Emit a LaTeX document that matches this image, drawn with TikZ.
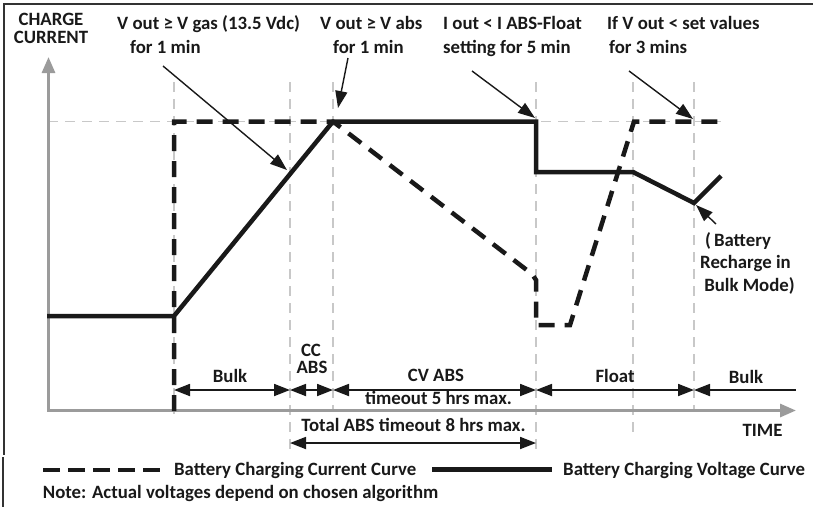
\documentclass[tikz,border=0pt]{standalone}
\usepackage{fontspec}
\setmainfont{Carlito}
\usetikzlibrary{arrows.meta}
\definecolor{axisgray}{RGB}{155,155,155}
\definecolor{gridgray}{RGB}{200,200,200}
\definecolor{ink}{RGB}{25,25,25}
\tikzset{
  lbl/.style={font=\bfseries\fontsize{18.8}{22}\selectfont, inner sep=0pt, text=ink},
  gridln/.style={draw=gridgray, line width=1.5pt, dash pattern=on 10pt off 7pt},
  axisln/.style={draw=axisgray, line width=3pt, -{Triangle[length=16pt,width=13pt]}},
  currln/.style={draw=ink, line width=4.5pt, dash pattern=on 16pt off 10pt},
  voltln/.style={draw=ink, line width=4.5pt},
  phasearr/.style={draw=ink, line width=1.8pt, {Triangle[length=16pt,width=12pt]}-{Triangle[length=16pt,width=12pt]}},
  phaseleft/.style={draw=ink, line width=1.8pt, {Triangle[length=16pt,width=12pt]}-},
  notearr/.style={draw=ink, line width=1.4pt, -{Triangle[length=17pt,width=12pt]}},
  framel/.style={draw=black!80, line width=1.3pt},
}
\begin{document}
\begin{tikzpicture}[x=1pt,y=-1pt]
\useasboundingbox (0,0) rectangle (813,515);
% frame
\coordinate (fr0) at (4,4);
\coordinate (fr1) at (813,4);
\coordinate (fr2) at (4,455);
\coordinate (fr3) at (3,457);
\coordinate (fr4) at (3,507);
\draw[framel] (fr1) -- (fr0) -- (fr2);
\draw[framel] (fr3) -- (fr4);
% grid
\coordinate (gh0) at (48,121.5);
\coordinate (gh1) at (725,121.5);
\draw[gridln] (gh0) -- (gh1);
\coordinate (g1t) at (174,82);  \coordinate (g1b) at (174,414);
\coordinate (g2t) at (290,82);  \coordinate (g2b) at (290,449);
\coordinate (g3t) at (333,82);  \coordinate (g3b) at (333,410);
\coordinate (g4t) at (536,82);  \coordinate (g4b) at (536,449);
\coordinate (g5t) at (633,82);  \coordinate (g5b) at (633,437);
\coordinate (g6t) at (694,82);  \coordinate (g6b) at (694,411);
\foreach \i in {1,...,6} {\draw[gridln] (g\i t) -- (g\i b);}
% axes
\coordinate (org) at (48.5,410.5);
\coordinate (ytip) at (48.5,57);
\coordinate (xtip) at (796,410.5);
\coordinate (org2) at (47,410.5);
\draw[axisln] (org) -- (ytip);
\draw[axisln] (org2) -- (xtip);
% current curve (dashed)
\coordinate (c0) at (174,411);
\coordinate (c1) at (174,121.5);
\coordinate (c2) at (333,121.5);
\coordinate (c3) at (532,274);
\coordinate (c4) at (536,280);
\coordinate (c5) at (536,325);
\coordinate (c6) at (570,325);
\coordinate (c7) at (634,121.5);
\coordinate (c8) at (725,121.5);
\draw[currln] (c0) -- (c1) -- (c2) -- (c3) -- (c4) -- (c5) -- (c6) -- (c7) -- (c8);
% voltage curve (solid)
\coordinate (v0) at (47,316);
\coordinate (v1) at (174,316);
\coordinate (v2) at (333,121.5);
\coordinate (v3) at (536,121.5);
\coordinate (v4) at (536,172);
\coordinate (v5) at (633,172);
\coordinate (v6) at (694,203);
\coordinate (v7) at (721,176);
\draw[voltln] (v0) -- (v1) -- (v2) -- (v3) -- (v4) -- (v5) -- (v6) -- (v7);
% annotation arrows
\coordinate (a1s) at (163,66);  \coordinate (a1e) at (287,170);
\coordinate (a2s) at (348,58);  \coordinate (a2e) at (338,108);
\coordinate (a3s) at (472,71);  \coordinate (a3e) at (535,118);
\coordinate (a4s) at (629,71);  \coordinate (a4e) at (693,119);
\coordinate (a5s) at (716,224); \coordinate (a5e) at (696,205);
\foreach \i in {1,...,5} {\draw[notearr] (a\i s) -- (a\i e);}
% phase arrows
\coordinate (p0) at (174,390);
\coordinate (p1) at (290,390);
\coordinate (p2) at (333,390);
\coordinate (p3) at (536,390);
\coordinate (p4) at (694,390);
\coordinate (p5) at (796,390);
\draw[phasearr] (p0) -- (p1);
\draw[phasearr] (p1) -- (p2);
\draw[phasearr] (p2) -- (p3);
\draw[phasearr] (p3) -- (p4);
\draw[phaseleft] (p4) -- (p5);
\coordinate (t0) at (290,443);
\coordinate (t1) at (536,443);
\draw[phasearr] (t0) -- (t1);
% texts
\node[lbl, anchor=base] (yl1) at (51,25) {CHARGE};
\node[lbl, anchor=base] (yl2) at (51,43.5) {CURRENT};
\node[lbl, anchor=base west] (n1a) at (117,29.5) {V out ≥ V gas (13.5 Vdc)};
\node[lbl, anchor=base west] (n1b) at (130,53.3) {for 1 min};
\node[lbl, anchor=base west] (n2a) at (320,29.5) {V out ≥ V abs};
\node[lbl, anchor=base west] (n2b) at (333,53.3) {for 1 min};
\node[lbl, anchor=base west] (n3a) at (443,29.5) {I out < I ABS-Float};
\node[lbl, anchor=base west] (n3b) at (443,53.3) {setting for 5 min};
\node[lbl, anchor=base west] (n4a) at (607,29.5) {If V out < set values};
\node[lbl, anchor=base west] (n4b) at (609,53.3) {for 3 mins};
\node[lbl, anchor=base] (r1) at (738,246) {(\,Battery};
\node[lbl, anchor=base] (r2) at (745.5,268.5) {Recharge in};
\node[lbl, anchor=base] (r3) at (749.5,291.7) {Bulk Mode)};
\node[lbl, anchor=base] (ph1) at (230,382.3) {Bulk};
\node[lbl, anchor=base] (ph2a) at (311,356) {CC};
\node[lbl, anchor=base] (ph2b) at (312,373.3) {ABS};
\node[lbl, anchor=base] (ph3a) at (436,381.7) {CV ABS};
\node[lbl, anchor=base] (ph3b) at (438.5,404) {timeout 5 hrs max.};
\node[lbl, anchor=base] (ph4) at (615,382.3) {Float};
\node[lbl, anchor=base] (ph5) at (746,383.3) {Bulk};
\node[lbl, anchor=base] (tot) at (413.5,431.7) {Total ABS timeout 8 hrs max.};
\node[lbl, anchor=base] (time) at (762.5,436.7) {TIME};
% legend
\coordinate (lg0) at (43,470);
\coordinate (lg1) at (165,470);
\draw[currln, dash pattern=on 17pt off 8pt] (lg0) -- (lg1);
\node[lbl, anchor=base west] (lgt1) at (174,475) {Battery Charging Current Curve};
\coordinate (lg2) at (432,469.5);
\coordinate (lg3) at (552,469.5);
\draw[voltln] (lg2) -- (lg3);
\node[lbl, anchor=base west] (lgt2) at (563,475) {Battery Charging Voltage Curve};
\node[lbl, anchor=base west] (nt) at (42.7,498.5) {Note: Actual voltages depend on chosen algorithm};
\end{tikzpicture}
\end{document}
